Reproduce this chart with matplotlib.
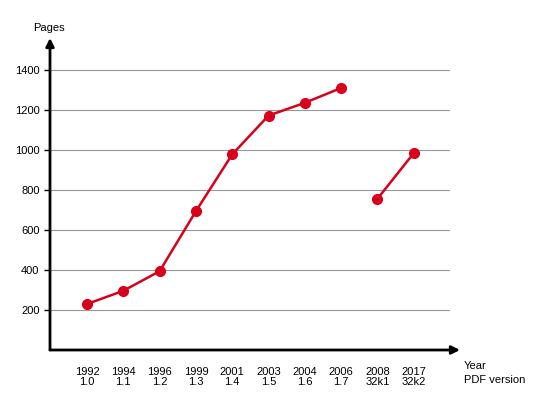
import matplotlib
matplotlib.use("Agg")
import matplotlib.pyplot as plt

years = ["1992", "1994", "1996", "1999", "2001", "2003", "2004", "2006", "2008", "2017"]
versions = ["1.0", "1.1", "1.2", "1.3", "1.4", "1.5", "1.6", "1.7", "32k1", "32k2"]
pages_a = [230, 296, 394, 694, 978, 1172, 1236, 1310]
pages_b = [756, 984]
yticks = [200, 400, 600, 800, 1000, 1200, 1400]

plt.rcParams['font.family'] = ['Liberation Sans', 'DejaVu Sans']
fig = plt.figure(figsize=(5.5, 4), dpi=100)
ax = fig.add_axes([50/550, 50/400, 400/550, 310/400])
ax.set_xlim(-1.02, 10)
ax.set_ylim(0, 1550)
for s in ax.spines.values():
    s.set_visible(False)
for v in yticks:
    ax.axhline(v, color='#999999', lw=0.8, zorder=1)
red = '#d9001b'
xa = list(range(len(pages_a)))
xb = list(range(len(pages_a), len(pages_a) + len(pages_b)))
ax.plot(xa, pages_a, color=red, lw=1.8, marker='o', ms=7, zorder=3)
ax.plot(xb, pages_b, color=red, lw=1.8, marker='o', ms=7, zorder=3)
ax.set_yticks(yticks)
ax.set_yticklabels([str(v) for v in yticks], fontsize=8)
ax.set_xticks(range(len(years)))
ax.set_xticklabels([f"{y}\n{v}" for y, v in zip(years, versions)], fontsize=8, linespacing=1.1)
ax.tick_params(axis='x', length=0, pad=12)
ax.tick_params(axis='y', length=4, width=1, direction='out')
# axes with arrows
ax.annotate('', xy=(460/550, 50/400), xytext=(50/550, 50/400), xycoords='figure fraction',
            arrowprops=dict(arrowstyle='-|>', color='black', lw=2, mutation_scale=12, shrinkA=0, shrinkB=0))
ax.annotate('', xy=(50/550, 362/400), xytext=(50/550, 50/400), xycoords='figure fraction',
            arrowprops=dict(arrowstyle='-|>', color='black', lw=2, mutation_scale=12, shrinkA=0, shrinkB=0))
fig.text(33/550, 372/400, "Pages", fontsize=8, va='center')
fig.text(464/550, 34/400, "Year", fontsize=8, va='center')
fig.text(464/550, 20/400, "PDF version", fontsize=8, va='center')
fig.savefig("out.png", dpi=100)
